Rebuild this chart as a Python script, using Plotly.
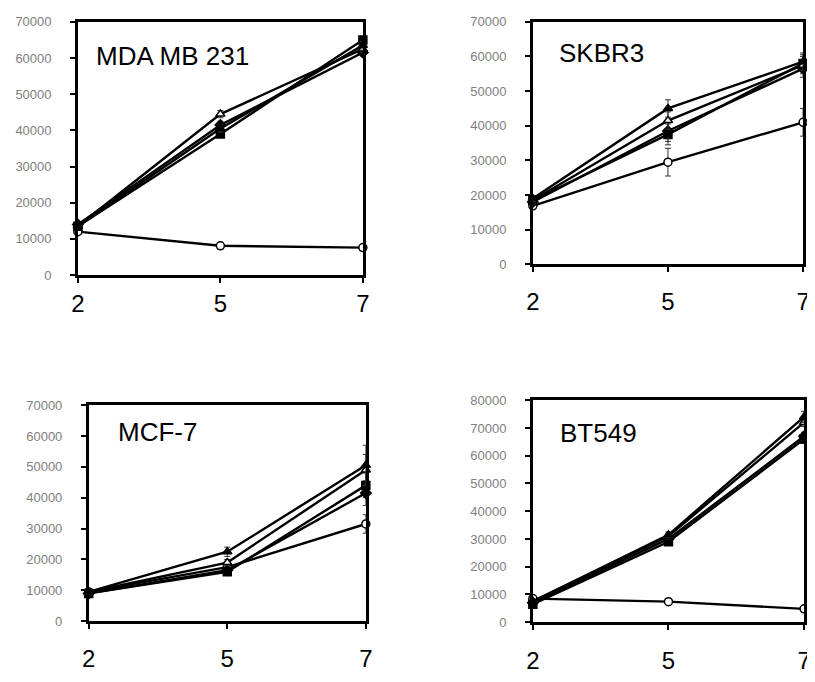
import plotly.graph_objects as go

days = ["2", "5", "7"]
panel_names = ["MDA MB 231", "SKBR3", "MCF-7", "BT549"]
y_max = [70000, 70000, 70000, 80000]

# series values per panel (days 2, 5, 7)
s_open_circle = [[12000, 8100, 7600], [16900, 29500, 41000], [9500, 17500, 31500], [8500, 7400, 4800]]
s_filled_square = [[13500, 39000, 65000], [18500, 37500, 58000], [9000, 16000, 44000], [6500, 29000, 66000]]
s_filled_triangle = [[13500, 40500, 63500], [19000, 45000, 58500], [9500, 22500, 50500], [7500, 31500, 74000]]
s_open_triangle = [[13500, 44500, 62500], [18500, 41500, 57500], [9500, 19000, 49000], [7500, 31000, 72000]]
s_filled_diamond = [[14000, 41500, 61500], [18000, 38500, 56500], [9000, 16500, 41500], [7000, 30000, 67000]]

# error bars (standard deviation)
e_open_circle = [[500, 500, 500], [800, 4000, 4000], [500, 1500, 3000], [500, 500, 500]]
e_filled_square = [[500, 1000, 1000], [800, 3000, 2500], [500, 1000, 4000], [500, 1000, 1500]]
e_filled_triangle = [[500, 1000, 1000], [800, 2500, 2500], [500, 1500, 6500], [500, 1000, 2000]]
e_open_triangle = [[500, 1000, 1000], [800, 2500, 2500], [500, 1000, 5000], [500, 1000, 1500]]
e_filled_diamond = [[500, 1000, 1000], [800, 3000, 2500], [500, 1000, 4000], [500, 1000, 1500]]

series = [
    ("open circle", s_open_circle, e_open_circle, "circle", "white"),
    ("filled square", s_filled_square, e_filled_square, "square", "black"),
    ("filled diamond", s_filled_diamond, e_filled_diamond, "diamond", "black"),
    ("open triangle", s_open_triangle, e_open_triangle, "triangle-up", "white"),
    ("filled triangle", s_filled_triangle, e_filled_triangle, "triangle-up", "black"),
]

OFF = 8  # browser body margin
W, H = 815 - OFF, 682 - OFF
# plot boxes in window pixels: (x0, x1, ytop, ybottom)
boxes = [(72, 362, 15, 274), (535, 810, 15, 263), (83, 365, 407, 628), (535, 811, 402, 629)]
x_standoff = [0, 9, 9, 10]
title_pos = [(88, 50), (560, 47), (111, 434), (561, 436)]


def px(x):
    return (x - OFF) / W


def py(y):
    return 1 - (y - OFF) / H


fig = go.Figure()
xs = [0, 1, 2]
for p in range(4):
    ax = "" if p == 0 else str(p + 1)
    for name, vals, errs, sym, fill in series:
        fig.add_trace(go.Scatter(
            x=xs, y=vals[p], mode="lines+markers", name=name,
            xaxis="x" + ax, yaxis="y" + ax, showlegend=False,
            line=dict(color="black", width=2.4),
            marker=dict(symbol=sym, size=8, color=fill,
                        line=dict(color="black", width=1.5)),
            error_y=dict(type="data", array=errs[p], color="#333", thickness=1, width=3),
            cliponaxis=False,
        ))
    x0, x1, yt, yb = boxes[p]
    common = dict(showline=True, linecolor="black", linewidth=2.5, mirror=True,
                  showgrid=False, zeroline=False, ticks="outside", tickcolor="black",
                  tickwidth=2, ticklen=5)
    fig.layout["xaxis" + ax] = dict(
        domain=[px(x0), px(x1)], anchor="y" + ax, range=[0, 2],
        tickvals=xs, ticktext=days, ticklabelstandoff=x_standoff[p],
        tickfont=dict(family="Liberation Sans", size=24, color="black"),
        **common)
    fig.layout["yaxis" + ax] = dict(
        domain=[py(yb), py(yt)], anchor="x" + ax, range=[0, y_max[p]],
        dtick=10000, tickformat="d", ticklabelstandoff=16,
        tickfont=dict(family="Liberation Sans", size=13, color="#808080"),
        **common)
    tx, ty = title_pos[p]
    fig.add_annotation(x=px(tx), y=py(ty), xref="paper", yref="paper",
                       text=panel_names[p], showarrow=False, xanchor="left",
                       yanchor="middle",
                       font=dict(family="Liberation Sans", size=26, color="black"))

fig.update_layout(width=W, height=H, margin=dict(l=0, r=0, t=0, b=0),
                  plot_bgcolor="white", paper_bgcolor="white")
fig.write_html("out.html")
